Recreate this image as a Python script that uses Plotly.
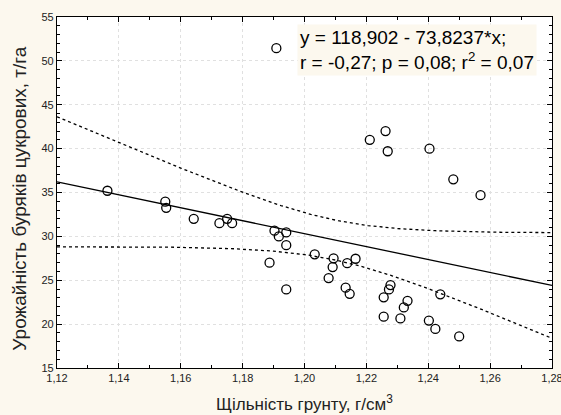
import numpy as np
import plotly.graph_objects as go

# Data
density = [1.1363, 1.1550, 1.1553, 1.1642, 1.1725, 1.1750, 1.1766, 1.1887, 1.1903, 1.1917,
           1.1909, 1.1941, 1.1941, 1.1941, 1.2033, 1.2078, 1.2094, 1.2091, 1.2138, 1.2133,
           1.2146, 1.2165, 1.2211, 1.2262, 1.2269, 1.2256, 1.2256, 1.2273, 1.2278, 1.2310,
           1.2321, 1.2333, 1.2404, 1.2402, 1.2423, 1.2439, 1.2481, 1.2500, 1.2569]
yield_t = [35.2, 33.95, 33.25, 32.0, 31.5, 32.0, 31.5, 27.0, 30.65, 30.0,
           51.45, 30.45, 29.0, 23.95, 27.95, 25.25, 27.5, 26.5, 26.95, 24.15,
           23.45, 27.45, 41.0, 42.0, 39.7, 23.05, 20.85, 23.95, 24.45, 20.65,
           21.9, 22.65, 40.0, 20.4, 19.45, 23.4, 36.5, 18.6, 34.7]

intercept = 118.902
slope = -73.8237
x_range = [1.12, 1.28]
y_range = [15, 55]
x_ticks = [1.12, 1.14, 1.16, 1.18, 1.20, 1.22, 1.24, 1.26, 1.28]
y_ticks = [15, 20, 25, 30, 35, 40, 45, 50, 55]

x = np.array(density)
y = np.array(yield_t)
n = len(x)
xs = np.linspace(x_range[0], x_range[1], 200)
fit = intercept + slope * xs
resid = y - (intercept + slope * x)
se = np.sqrt(np.sum(resid ** 2) / (n - 2))
sxx = np.sum((x - x.mean()) ** 2)
t = 2.026
half = t * se * np.sqrt(1 / n + (xs - x.mean()) ** 2 / sxx)

bg = "#FCF8EE"
font = "Liberation Sans, Arial"
fig = go.Figure()
fig.add_trace(go.Scatter(x=xs, y=fit + half, mode="lines",
                         line=dict(color="black", width=1.3, dash="3px,3px"), hoverinfo="skip"))
fig.add_trace(go.Scatter(x=xs, y=fit - half, mode="lines",
                         line=dict(color="black", width=1.3, dash="3px,3px"), hoverinfo="skip"))
fig.add_trace(go.Scatter(x=xs, y=fit, mode="lines",
                         line=dict(color="black", width=1.3), hoverinfo="skip"))
fig.add_trace(go.Scatter(x=density, y=yield_t, mode="markers",
                         marker=dict(symbol="circle-open", size=9, color="black",
                                     line=dict(width=1.3, color="black"))))

axis_common = dict(
    showline=True, linecolor="black", linewidth=1.2, mirror="allticks",
    ticks="inside", ticklen=5, tickcolor="black", tickwidth=1,
    showgrid=True, gridcolor="#E0E0E0", griddash="dot", gridwidth=1,
    zeroline=False, automargin=False, ticklabeloverflow="allow",
    tickfont=dict(family=font, size=11, color="#222"),
)
fig.update_xaxes(range=[x_range[0], x_range[1] + 1e-6], tickvals=x_ticks, tickformat=".2f",
                 minor=dict(dtick=0.01, ticks="inside", ticklen=3, tickcolor="black", showgrid=False),
                 **axis_common)
fig.update_yaxes(range=y_range, tickvals=y_ticks,
                 minor=dict(dtick=1, ticks="inside", ticklen=3, tickcolor="black", showgrid=False),
                 **axis_common)

fig.add_annotation(x=0.5, y=-0.10, xref="paper", yref="paper", xanchor="center", yanchor="middle",
                   text="Щільність грунту, г/см<sup>3</sup>", showarrow=False,
                   font=dict(family=font, size=17, color="#222"))
fig.add_annotation(x=-0.075, y=0.485, xref="paper", yref="paper", xanchor="center", yanchor="middle",
                   text="Урожайність буряків цукрових, т/га", showarrow=False, textangle=-90,
                   font=dict(family=font, size=19, color="#222"))

fig.add_annotation(x=1.1975, y=54.2, xref="x", yref="y", xanchor="left", yanchor="top",
                   text="y = 118,902 - 73,8237*x;<br>r = -0,27; p = 0,08; r<sup>2</sup> = 0,07",
                   showarrow=False, align="left", bgcolor=bg, borderpad=2,
                   font=dict(family=font, size=19, color="black"))

fig.update_layout(
    width=561, height=415, showlegend=False,
    paper_bgcolor=bg, plot_bgcolor="white",
    margin=dict(l=57, r=9, t=17, b=47),
    separators=", ",
)
fig.write_html("out.html", config={"displayModeBar": False},
               post_script="document.body.style.margin='0';document.body.style.background='%s';" % bg)
